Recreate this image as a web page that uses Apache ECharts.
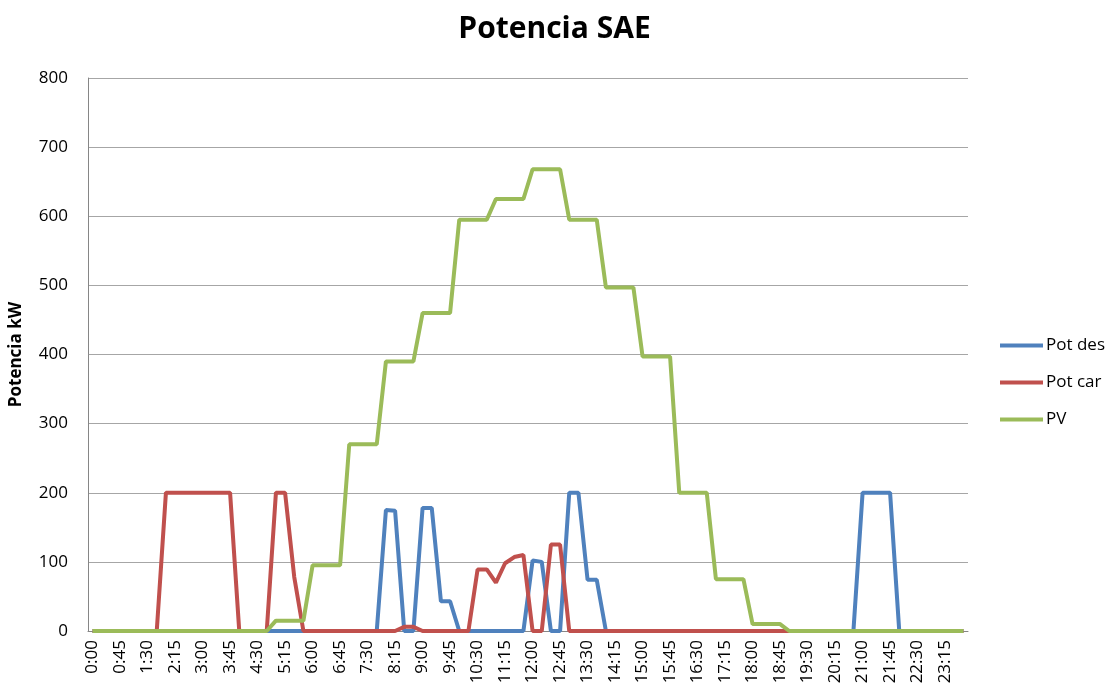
<!DOCTYPE html>
<html>
<head>
<meta charset="utf-8">
<script src="https://cdn.jsdelivr.net/npm/echarts@6/dist/echarts.min.js"></script>
<style>
html,body{margin:0;padding:0;background:#fff;}
#chart{width:1109px;height:693px;}
</style>
</head>
<body>
<div id="chart"></div>
<script>
// 15-minute time categories 0:00 .. 23:45
var categories = [];
for (var h = 0; h < 24; h++) {
  for (var m = 0; m < 60; m += 15) {
    categories.push(h + ':' + (m < 10 ? '0' + m : m));
  }
}

var seriesNames = ['Pot des', 'Pot car', 'PV'];

var potDes = [
  0,0,0,0,0,0,0,0,0,0,0,0,
  0,0,0,0,0,0,0,0,0,0,0,0,
  0,0,0,0,0,0,0,0,175,174,0,0,
  178,178,43,43,0,0,0,0,0,0,0,0,
  102,100,0,0,200,200,74,74,0,0,0,0,
  0,0,0,0,0,0,0,0,0,0,0,0,
  0,0,0,0,0,0,0,0,0,0,0,0,
  200,200,200,200,0,0,0,0,0,0,0,0
];

var potCar = [
  0,0,0,0,0,0,0,0,200,200,200,200,
  200,200,200,200,0,0,0,0,200,200,78,0,
  0,0,0,0,0,0,0,0,0,0,6,6,
  0,0,0,0,0,0,89,89,70,98,107,110,
  0,0,125,125,0,0,0,0,0,0,0,0,
  0,0,0,0,0,0,0,0,0,0,0,0,
  0,0,0,0,0,0,0,0,0,0,0,0,
  0,0,0,0,0,0,0,0,0,0,0,0
];

var pv = [
  0,0,0,0,0,0,0,0,0,0,0,0,
  0,0,0,0,0,0,0,0,15,15,15,15,
  95,95,95,95,270,270,270,270,390,390,390,390,
  460,460,460,460,595,595,595,595,625,625,625,625,
  668,668,668,668,595,595,595,595,497,497,497,497,
  397,397,397,397,200,200,200,200,75,75,75,75,
  10,10,10,10,0,0,0,0,0,0,0,0,
  0,0,0,0,0,0,0,0,0,0,0,0
];

var colors = ['#4F81BD', '#C0504D', '#9BBB59'];
var FONT = '"Open Sans", Lato, sans-serif';

var chart = echarts.init(document.getElementById('chart'), null, {renderer: 'canvas'});

function mkSeries(name, data, color) {
  return {
    name: name,
    type: 'line',
    data: data,
    showSymbol: false,
    symbol: 'none',
    smooth: false,
    lineStyle: {width: 4, color: color},
    itemStyle: {color: color},
    animation: false
  };
}

chart.setOption({
  animation: false,
  color: colors,
  title: {
    text: 'Potencia SAE',
    left: 'center',
    top: 9,
    textStyle: {fontFamily: FONT, fontSize: 30, fontWeight: 'bold', color: '#000'}
  },
  legend: {
    orient: 'vertical',
    left: 995,
    top: 332,
    itemGap: 20,
    itemWidth: 43,
    itemHeight: 4,
    icon: 'rect',
    textStyle: {fontFamily: FONT, fontSize: 17, color: '#000', padding: [0, 0, 0, -2]},
    data: seriesNames
  },
  grid: {left: 88, right: 141, top: 78, bottom: 62, containLabel: false},
  xAxis: {
    type: 'category',
    data: categories,
    boundaryGap: true,
    axisLine: {lineStyle: {color: '#868686', width: 1}},
    axisTick: {show: false},
    axisLabel: {
      interval: 2,
      rotate: 90,
      margin: 9,
      fontFamily: FONT,
      fontSize: 17,
      color: '#000'
    },
    splitLine: {show: false}
  },
  yAxis: {
    type: 'value',
    min: 0,
    max: 800,
    interval: 100,
    name: 'Potencia kW',
    nameLocation: 'middle',
    nameGap: 63,
    nameRotate: 90,
    nameTextStyle: {fontFamily: FONT, fontSize: 17, fontWeight: 'bold', color: '#000'},
    axisLine: {show: true, lineStyle: {color: '#868686', width: 1}},
    axisTick: {show: false},
    axisLabel: {fontFamily: FONT, fontSize: 17, color: '#000', margin: 20},
    splitLine: {lineStyle: {color: '#a6a6a6', width: 1}}
  },
  series: [
    mkSeries(seriesNames[0], potDes, colors[0]),
    mkSeries(seriesNames[1], potCar, colors[1]),
    mkSeries(seriesNames[2], pv, colors[2])
  ]
});
</script>
</body>
</html>
